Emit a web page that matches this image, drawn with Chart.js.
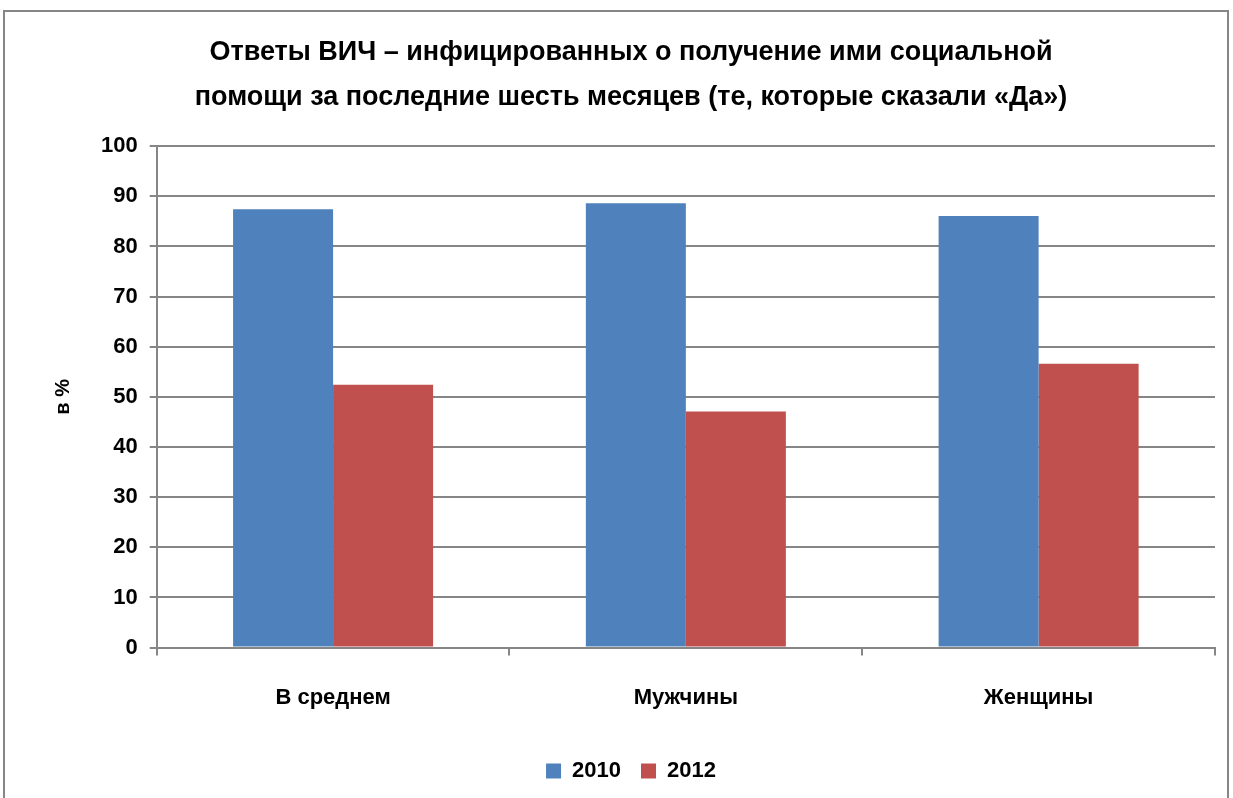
<!DOCTYPE html>
<html>
<head>
<meta charset="utf-8">
<script src="https://cdn.jsdelivr.net/npm/chart.js@4"></script>
<style>
    html, body { margin: 0; padding: 0; background: #fff; }
    #wrap { width: 1233px; height: 798px; }
</style>
</head>
<body>
<div id="wrap"><canvas id="hivChart" width="1233" height="798"></canvas></div>
<script>
const labels = ["В среднем", "Мужчины", "Женщины"];
const values2010 = [87.4, 88.6, 86.1];
const values2012 = [52.4, 47.1, 56.6];
const titleLines = [
    "Ответы ВИЧ – инфицированных о получение ими социальной",
    "помощи за последние шесть месяцев (те, которые сказали «Да»)",
];

const font = "'Liberation Sans', Arial, sans-serif";

// outer frame like in the original picture
const framePlugin = {
    id: "frame",
    beforeDraw(chart) {
        const ctx = chart.ctx;
        ctx.save();
        ctx.fillStyle = "#fff";
        ctx.fillRect(0, 0, chart.width, chart.height);
        ctx.strokeStyle = "#868686";
        ctx.lineWidth = 2;
        ctx.strokeRect(4, 11, 1224, 800);
        ctx.restore();
    },
};

new Chart(document.getElementById("hivChart"), {
    type: "bar",
    data: {
        labels: labels,
        datasets: [
            {
                label: "2010",
                data: values2010,
                backgroundColor: "#4f81bd",
                categoryPercentage: 0.567,
                barPercentage: 1,
            },
            {
                label: "2012",
                data: values2012,
                backgroundColor: "#c0504d",
                categoryPercentage: 0.567,
                barPercentage: 1,
            },
        ],
    },
    plugins: [framePlugin],
    options: {
        responsive: false,
        animation: false,
        layout: {
            padding: { left: 47, right: 18, top: 30, bottom: 6 },
        },
        plugins: {
            title: {
                display: true,
                text: titleLines,
                color: "#000",
                font: { family: font, size: 27, weight: "bold", lineHeight: 1.67 },
                padding: { top: 0, bottom: 26 },
            },
            legend: {
                position: "bottom",
                labels: {
                    color: "#000",
                    font: { family: font, size: 22, weight: "bold" },
                    boxWidth: 15,
                    boxHeight: 15,
                    padding: 20,
                },
            },
            tooltip: { enabled: false },
        },
        scales: {
            x: {
                grid: {
                    display: true,
                    drawOnChartArea: false,
                    color: "#868686",
                    lineWidth: 2,
                    tickLength: 8,
                },
                border: { color: "#868686", width: 2 },
                ticks: {
                    color: "#000",
                    font: { family: font, size: 22, weight: "bold" },
                    padding: 29,
                },
            },
            y: {
                min: 0,
                max: 100,
                ticks: {
                    stepSize: 10,
                    color: "#000",
                    font: { family: font, size: 22, weight: "bold" },
                    padding: 12,
                },
                grid: {
                    color: "#868686",
                    lineWidth: 2,
                    tickLength: 7,
                },
                border: { color: "#868686", width: 2 },
                title: {
                    display: true,
                    text: "в %",
                    color: "#000",
                    font: { family: font, size: 20, weight: "bold" },
                    padding: { bottom: 14 },
                },
            },
        },
    },
});
</script>
</body>
</html>
